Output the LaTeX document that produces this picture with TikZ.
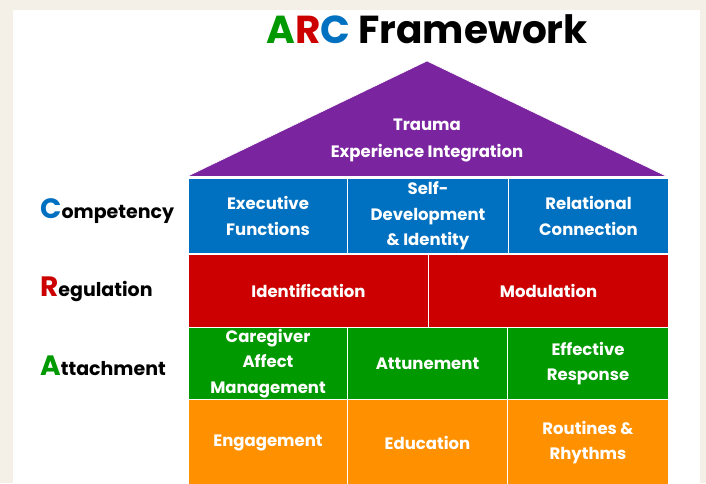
\documentclass[tikz,border=0pt]{standalone}
\usepackage{fontspec}
\setmainfont{Poppins}
\definecolor{bgbeige}{RGB}{244,240,232}
\definecolor{cpurple}{RGB}{123,36,160}
\definecolor{cblue}{RGB}{0,112,192}
\definecolor{cred}{RGB}{204,0,0}
\definecolor{cgreen}{RGB}{0,153,0}
\definecolor{corange}{RGB}{255,145,0}
\begin{document}
\begin{tikzpicture}[x=1pt,y=-1pt,
  cell/.style={draw=white, line width=1pt, text=white, anchor=north west,
    font=\bfseries\fontsize{16.5}{25.5}\selectfont, align=center, inner sep=0pt},
  sidelabel/.style={anchor=base west, inner sep=0pt, text=black,
    font=\bfseries\fontsize{19}{19}\selectfont}
]
\useasboundingbox (0,0) rectangle (706,483);
\fill[bgbeige] (0,0) rectangle (706,483);
\fill[white] (13,10) rectangle (700,483);

% title
\node[anchor=base, inner sep=0pt, font=\bfseries\fontsize{39}{39}\selectfont] (title) at (427,43)
  {\textcolor{cgreen}{A}\textcolor{cred}{R}\textcolor{cblue}{C} Framework};

% roof
\fill[cpurple, draw=white, line width=0.6pt] (187,176.5) -- (427,61) -- (667,176.5) -- cycle;
\node[text=white, align=center, font=\bfseries\fontsize{16.5}{27}\selectfont, inner sep=0pt] (roof) at (427,140)
  {Trauma\\Experience Integration};

% Competency row
\node[cell, fill=cblue, minimum width=159pt, minimum height=75pt] (ef) at (188,178) {Executive\\Functions};
\node[cell, fill=cblue, minimum width=161pt, minimum height=75pt] (sd) at (347,178) {Self-\\Development\\\& Identity};
\node[cell, fill=cblue, minimum width=160pt, minimum height=75pt] (rc) at (508,178) {Relational\\Connection};

% Regulation row
\node[cell, fill=cred, minimum width=240pt, minimum height=73pt] (id) at (188,254) {Identification};
\node[cell, fill=cred, minimum width=240pt, minimum height=73pt] (mo) at (428,254) {Modulation};

% Attachment row
\node[cell, fill=cgreen, minimum width=159pt, minimum height=72pt] (cam) at (188,327) {Caregiver\\Affect\\Management};
\node[cell, fill=cgreen, minimum width=160pt, minimum height=72pt] (att) at (347,327) {Attunement};
\node[cell, fill=cgreen, minimum width=161pt, minimum height=72pt] (er) at (507,327) {Effective\\Response};

% foundation row
\node[cell, fill=corange, minimum width=159pt, minimum height=86pt] (eng) at (188,399) {Engagement};
\node[cell, fill=corange, minimum width=160pt, minimum height=86pt] (edu) at (347,399) {Education};
\node[cell, fill=corange, minimum width=161pt, minimum height=86pt] (rr) at (507,399) {Routines \&\\Rhythms};

% side labels
\node[sidelabel] (lc) at (40,218) {{\bfseries\fontsize{28}{28}\selectfont\textcolor{cblue}{C}}ompetency};
\node[sidelabel] (lr) at (40,296) {{\bfseries\fontsize{28}{28}\selectfont\textcolor{cred}{R}}egulation};
\node[sidelabel] (la) at (40,375) {{\bfseries\fontsize{28}{28}\selectfont\textcolor{cgreen}{A}}ttachment};
\end{tikzpicture}
\end{document}
